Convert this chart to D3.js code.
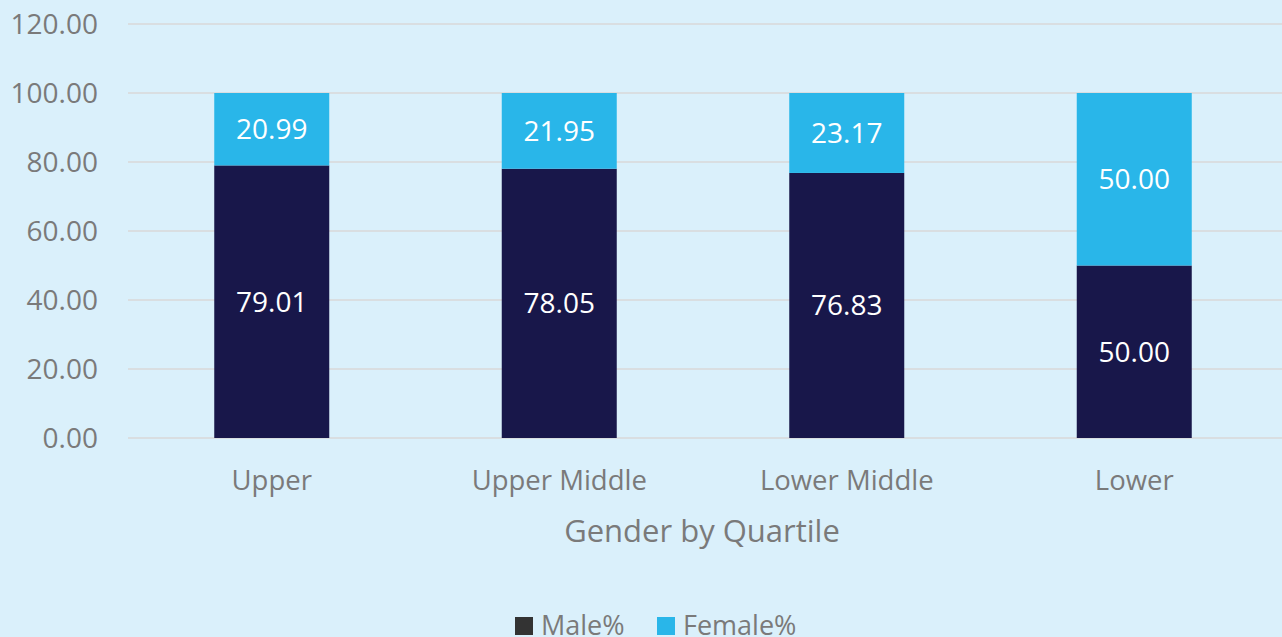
<!DOCTYPE html>
<html lang='en'>
<head>
    <meta charset='UTF-8'>
    <title>Gender by Quartile</title>
    <style>
        body { margin: 0; background: #daf0fb; overflow: hidden; }
        svg { display: block; }
    </style>
</head>
<body>
    <div id='anchor'></div>
    <script src='https://cdnjs.cloudflare.com/ajax/libs/d3/7.8.5/d3.min.js'></script>
    <script>
        const categories = ['Upper', 'Upper Middle', 'Lower Middle', 'Lower'];
        const malePct = [79.01, 78.05, 76.83, 50.00];
        const femalePct = [20.99, 21.95, 23.17, 50.00];
        const seriesNames = ['Male%', 'Female%'];
        const yTicks = [0, 20, 40, 60, 80, 100, 120];

        const width = 1282, height = 637;
        const plotLeft = 128, plotRight = 1282, plotTop = 24, plotBottom = 438;
        const fontFamily = "'Open Sans', sans-serif";
        const textGrey = '#7a7a7a';
        const colors = { 'Male%': '#18174a', 'Female%': '#29b6e9' };

        const svg = d3.select('#anchor').append('svg')
            .attr('width', width)
            .attr('height', height)
            .attr('font-family', fontFamily);

        svg.append('rect').attr('width', width).attr('height', height).attr('fill', '#daf0fb');

        // bars sit in a slightly narrower span than the gridlines
        const x = d3.scaleBand().domain(categories).range([plotLeft, plotRight - 4]).paddingInner(0.6).paddingOuter(0.3);
        const y = d3.scaleLinear().domain([0, 120]).range([plotBottom, plotTop]);

        // gridlines
        svg.append('g')
            .selectAll('line')
            .data(yTicks)
            .join('line')
            .attr('x1', plotLeft).attr('x2', plotRight)
            .attr('y1', d => y(d)).attr('y2', d => y(d))
            .attr('stroke', '#d9d9d9')
            .attr('stroke-width', 1.5);

        // y axis labels
        const yAxis = svg.append('g')
            .attr('transform', `translate(${plotLeft - 30},0)`)
            .call(d3.axisLeft(y).tickValues(yTicks).tickFormat(d3.format('.2f')).tickSize(0).tickPadding(0));
        yAxis.select('.domain').remove();
        yAxis.selectAll('text')
            .attr('fill', textGrey)
            .attr('font-size', 28)
            .attr('font-family', fontFamily)
            .attr('dy', '0.35em');

        // stacked data
        const rows = categories.map((c, i) => ({ cat: c, 'Male%': malePct[i], 'Female%': femalePct[i] }));
        const stacked = d3.stack().keys(seriesNames)(rows);

        const layers = svg.append('g')
            .selectAll('g')
            .data(stacked)
            .join('g')
            .attr('fill', d => colors[d.key]);

        layers.selectAll('rect')
            .data(d => d)
            .join('rect')
            .attr('x', d => x(d.data.cat))
            .attr('width', x.bandwidth())
            .attr('y', d => y(d[1]))
            .attr('height', d => y(d[0]) - y(d[1]));

        layers.selectAll('text')
            .data(d => d.map(v => ({ v, key: d.key })))
            .join('text')
            .attr('x', d => x(d.v.data.cat) + x.bandwidth() / 2)
            .attr('y', d => (y(d.v[0]) + y(d.v[1])) / 2)
            .attr('dy', '0.35em')
            .attr('text-anchor', 'middle')
            .attr('fill', '#ffffff')
            .attr('font-size', 28)
            .text(d => d3.format('.2f')(d.v.data[d.key]));

        // x axis labels
        const xAxis = svg.append('g')
            .attr('transform', `translate(0,${plotBottom + 42})`)
            .call(d3.axisBottom(x).tickSize(0).tickPadding(0));
        xAxis.select('.domain').remove();
        xAxis.selectAll('text')
            .attr('fill', textGrey)
            .attr('font-size', 27.5)
            .attr('font-family', fontFamily)
            .attr('dy', '0.35em');

        // axis title
        svg.append('text')
            .attr('x', 702)
            .attr('y', 531)
            .attr('dy', '0.35em')
            .attr('text-anchor', 'middle')
            .attr('fill', textGrey)
            .attr('font-size', 31)
            .text('Gender by Quartile');

        // legend
        const legendItems = [
            { name: 'Male%', color: '#333333', x: 515 },
            { name: 'Female%', color: '#29b6e9', x: 657 }
        ];
        const legend = svg.append('g')
            .selectAll('g')
            .data(legendItems)
            .join('g')
            .attr('transform', d => `translate(${d.x},617)`);
        legend.append('rect')
            .attr('width', 18).attr('height', 18)
            .attr('fill', d => d.color);
        legend.append('text')
            .attr('x', 26)
            .attr('y', 9)
            .attr('dy', '0.35em')
            .attr('fill', textGrey)
            .attr('font-size', 27)
            .text(d => d.name);
    </script>
</body>
</html>
